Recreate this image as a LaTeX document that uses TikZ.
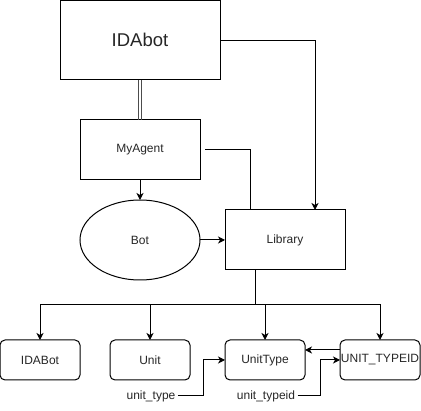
\documentclass[tikz,border=0pt]{standalone}
\usepackage{fontspec}
\setmainfont{Liberation Sans}
\usetikzlibrary{shapes.geometric,arrows.meta}
\begin{document}
\begin{tikzpicture}[x=1pt,y=-1pt,line width=1pt,
  every node/.style={text=black!85,font=\fontsize{12}{14}\selectfont},
  sqbox/.style={draw,rectangle,inner sep=0,outer sep=0},
  rbox/.style={draw,rectangle,rounded corners=5pt,minimum width=80,minimum height=40,inner sep=0,outer sep=0},
  arr/.style={-{Stealth[length=7pt,width=7pt,inset=2pt]}},
  dbl/.style={line width=0.8pt,draw=black!70},
  lbl/.style={inner sep=2pt}]
\useasboundingbox (0,0) rectangle (421,411);
\node[sqbox,minimum width=160,minimum height=79.5,font=\fontsize{18.5}{22}\selectfont] (ida) at (140,40.25) {IDAbot};
\node[sqbox,minimum width=120,minimum height=60] (ag) at (140,150) {MyAgent};
\node[draw,ellipse,minimum width=120,minimum height=80,inner sep=0,outer sep=0] (bot) at (140,240) {Bot};
\node[sqbox,minimum width=120,minimum height=60] (lib) at (285,240) {Library};
\node[rbox] (b1) at (40,360) {IDABot};
\node[rbox] (b2) at (150,360) {Unit};
\node[rbox] (ut) at (265,360) {UnitType};
\node[rbox] (tid) at (380,360) {UNIT\_TYPEID};
\node[lbl] (lt) at (151,396) {unit\_type};
\node[lbl] (lti) at (266,396) {unit\_typeid};
\coordinate (split) at (255,305);
\coordinate (k1) at (203,396);
\coordinate (k2) at (320,396);

\draw[arr] (ida.east) -| ([xshift=30pt]lib.north);
\draw[dbl] ([xshift=-1.5pt]ida.south) -- ([xshift=-1.5pt]ag.north);
\draw[dbl] ([xshift=1.5pt]ida.south) -- ([xshift=1.5pt]ag.north);
\draw ([xshift=5pt]ag.east) -| ([xshift=-35pt]lib.north);
\draw[arr] (ag.south) -- (bot.north);
\draw[arr] (bot.east) -- (lib.west);
\draw (lib.south -| split) -- (split);
\draw[arr] (split) -| (b1.north);
\draw[arr] (split) -| (b2.north);
\draw[arr] (split) -| (ut.north);
\draw[arr] (split) -| (tid.north);
\draw[arr] ([yshift=10pt]tid.west) -- ([yshift=10pt]ut.east);
\draw[arr] (lt.east) -- (k1) |- (ut.west);
\draw[arr] (lti.east) -- (k2) |- (tid.west);
\end{tikzpicture}
\end{document}
